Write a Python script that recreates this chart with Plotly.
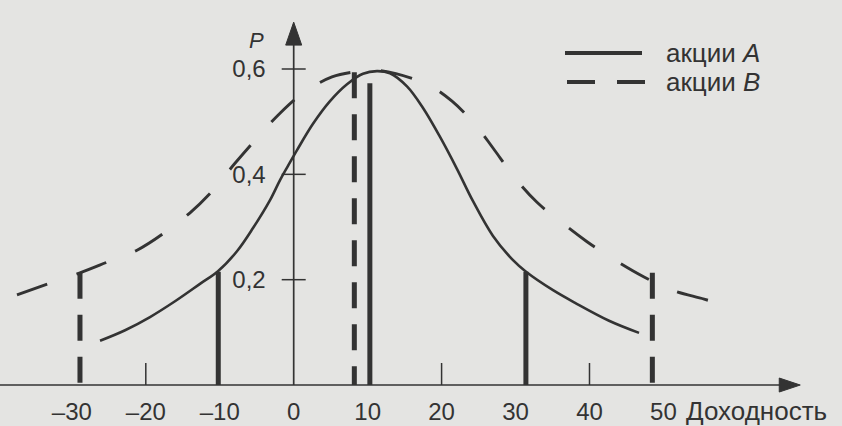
import plotly.graph_objects as go

# ---------------- data ----------------
# Stock A: probability curve (solid)
a_curve_x = [-26.19, -22.8, -19.43, -16.05, -12.67, -10.24, -7.67, -5.5, -3.2, -1.85, -0.77,
             0.45, 2.61, 4.91, 7.21, 9.37, 11.26, 13.02, 15.32, 17.49, 19.79, 22.09, 24.25,
             26.95, 29.66, 31.42, 35.07, 38.05, 42.64, 46.7]
a_curve_y = [0.084, 0.104, 0.129, 0.159, 0.192, 0.216, 0.254, 0.298, 0.351, 0.389, 0.416,
             0.446, 0.496, 0.539, 0.571, 0.591, 0.596, 0.592, 0.567, 0.526, 0.471, 0.410,
             0.349, 0.283, 0.237, 0.215, 0.180, 0.156, 0.122, 0.099]
# Stock B: probability curve (dashed)
b_curve_x = [-37.42, -33.23, -28.9, -25.11, -21.19, -17.4, -14.02, -10.91, -7.94, -4.96,
             -1.85, 1.26, 5.18, 8.97, 11.26, 17.75, 21.41, 24.79, 26.95, 29.93, 32.9, 36.29,
             39.67, 43.45, 47.38, 51.17, 55.5, 59.69]
b_curve_y = [0.171, 0.192, 0.213, 0.234, 0.256, 0.290, 0.327, 0.370, 0.421, 0.469, 0.516,
             0.554, 0.585, 0.596, 0.598, 0.573, 0.539, 0.490, 0.450, 0.393, 0.347, 0.308,
             0.272, 0.237, 0.205, 0.180, 0.163, 0.146]
# discrete outcomes (bars)
a_bar_x = [-10.2, 10.3, 31.4]
a_bar_y = [0.215, 0.573, 0.215]
b_bar_x = [-28.9, 8.2, 48.5]
b_bar_y = [0.213, 0.594, 0.213]

x_tick_vals = [-30, -20, -10, 0, 10, 20, 30, 40, 50]
x_tick_text = ['–30', '–20', '–10', '0', '10', '20', '30', '40', '50']
x_tick_marks = [-20, 20, 40]
y_tick_vals = [0.2, 0.4, 0.6]
y_tick_text = ['0,2', '0,4', '0,6']
series_names = ['акции <i>A</i>', 'акции <i>B</i>']
x_title = 'Доходность'
y_title = '<i>P</i>'

# ---------------- style ----------------
W, H = 842, 426
BG = '#e4e4e2'
INK = '#333333'
FONT = 'Liberation Sans, Arial, sans-serif'
X_RANGE = [-39.716, 74.146]
Y_RANGE = [-0.0778, 0.7310]
X_END = 68.5      # arrow tip of abscissa
Y_END = 0.689     # arrow tip of ordinate

sx = W / (X_RANGE[1] - X_RANGE[0])   # px per x unit
sy = H / (Y_RANGE[1] - Y_RANGE[0])   # px per y unit

fig = go.Figure()

# curves
fig.add_trace(go.Scatter(x=a_curve_x, y=a_curve_y, mode='lines',
                         line=dict(color=INK, width=2.6, shape='spline', smoothing=1.0),
                         showlegend=False, hoverinfo='skip'))
fig.add_trace(go.Scatter(x=b_curve_x, y=b_curve_y, mode='lines',
                         line=dict(color=INK, width=2.9, shape='spline', smoothing=1.0,
                                   dash='32px,31px'),
                         showlegend=False, hoverinfo='skip'))

# bars (vertical lines from the top down to the axis)
for xv, yv in zip(a_bar_x, a_bar_y):
    fig.add_trace(go.Scatter(x=[xv, xv], y=[yv, 0], mode='lines',
                             line=dict(color=INK, width=5),
                             showlegend=False, hoverinfo='skip'))
for xv, yv in zip(b_bar_x, b_bar_y):
    fig.add_trace(go.Scatter(x=[xv, xv], y=[yv, 0], mode='lines',
                             line=dict(color=INK, width=5, dash='26px,16px'),
                             showlegend=False, hoverinfo='skip'))

shapes = []
# axes lines
shapes.append(dict(type='line', xref='x', yref='y', x0=X_RANGE[0], x1=X_END - 6 / sx,
                   y0=0, y1=0, line=dict(color=INK, width=1.7)))
shapes.append(dict(type='line', xref='x', yref='y', x0=0, x1=0,
                   y0=0, y1=Y_END - 6 / sy, line=dict(color=INK, width=1.7)))
# arrowheads
L, Hh = 21 / sx, 7 / sy
shapes.append(dict(type='path', xref='x', yref='y',
                   path=f'M {X_END} 0 L {X_END - L} {Hh} L {X_END - L} {-Hh} Z',
                   fillcolor=INK, line=dict(color=INK, width=1)))
Ly, Hx = 23 / sy, 8 / sx
shapes.append(dict(type='path', xref='x', yref='y',
                   path=f'M 0 {Y_END} L {Hx} {Y_END - Ly} L {-Hx} {Y_END - Ly} Z',
                   fillcolor=INK, line=dict(color=INK, width=1)))
# x tick marks (upward)
for t in x_tick_marks:
    shapes.append(dict(type='line', xref='x', yref='y', x0=t, x1=t, y0=0, y1=22 / sy,
                       line=dict(color=INK, width=1.5)))
# y tick marks (crossing the axis)
for t in y_tick_vals:
    shapes.append(dict(type='line', xref='x', yref='y', x0=-12 / sx, x1=12 / sx, y0=t, y1=t,
                       line=dict(color=INK, width=1.5)))

# legend samples
def px(xp):
    return xp / W

def py(yp):
    return 1 - yp / H

shapes.append(dict(type='line', xref='paper', yref='paper', x0=px(565), x1=px(642),
                   y0=py(53), y1=py(53), line=dict(color=INK, width=4)))
shapes.append(dict(type='line', xref='paper', yref='paper', x0=px(567), x1=px(645),
                   y0=py(82), y1=py(82), line=dict(color=INK, width=4, dash='28px,22px')))

annotations = [
    dict(xref='paper', yref='paper', x=px(664), y=py(53), text=series_names[0],
         showarrow=False, xanchor='left', yanchor='middle',
         font=dict(family=FONT, size=26, color=INK)),
    dict(xref='paper', yref='paper', x=px(664), y=py(82), text=series_names[1],
         showarrow=False, xanchor='left', yanchor='middle',
         font=dict(family=FONT, size=26, color=INK)),
    dict(xref='paper', yref='paper', x=px(684), y=py(411), text=x_title,
         showarrow=False, xanchor='left', yanchor='middle',
         font=dict(family=FONT, size=26, color=INK)),
    dict(xref='paper', yref='paper', x=px(256), y=py(40), text=y_title,
         showarrow=False, xanchor='center', yanchor='middle',
         font=dict(family=FONT, size=22, color=INK)),
]

fig.update_layout(
    width=W, height=H, autosize=False,
    margin=dict(l=0, r=0, t=0, b=0),
    paper_bgcolor=BG, plot_bgcolor=BG,
    shapes=shapes, annotations=annotations,
    showlegend=False,
    xaxis=dict(range=X_RANGE, showgrid=False, zeroline=False, showline=False,
               ticks='', tickvals=x_tick_vals, ticktext=x_tick_text,
               tickfont=dict(family=FONT, size=24, color=INK),
               anchor='free', position=(0 - Y_RANGE[0]) / (Y_RANGE[1] - Y_RANGE[0]),
               ticklabelstandoff=10, fixedrange=True),
    yaxis=dict(range=Y_RANGE, showgrid=False, zeroline=False, showline=False,
               ticks='', tickvals=y_tick_vals, ticktext=y_tick_text,
               tickfont=dict(family=FONT, size=24, color=INK),
               anchor='free', position=(0 - X_RANGE[0]) / (X_RANGE[1] - X_RANGE[0]),
               ticklabelstandoff=28, fixedrange=True),
)

fig.write_html('out.html', config={'displayModeBar': False},
               post_script="document.body.style.margin='0px';document.body.style.padding='0px';")
